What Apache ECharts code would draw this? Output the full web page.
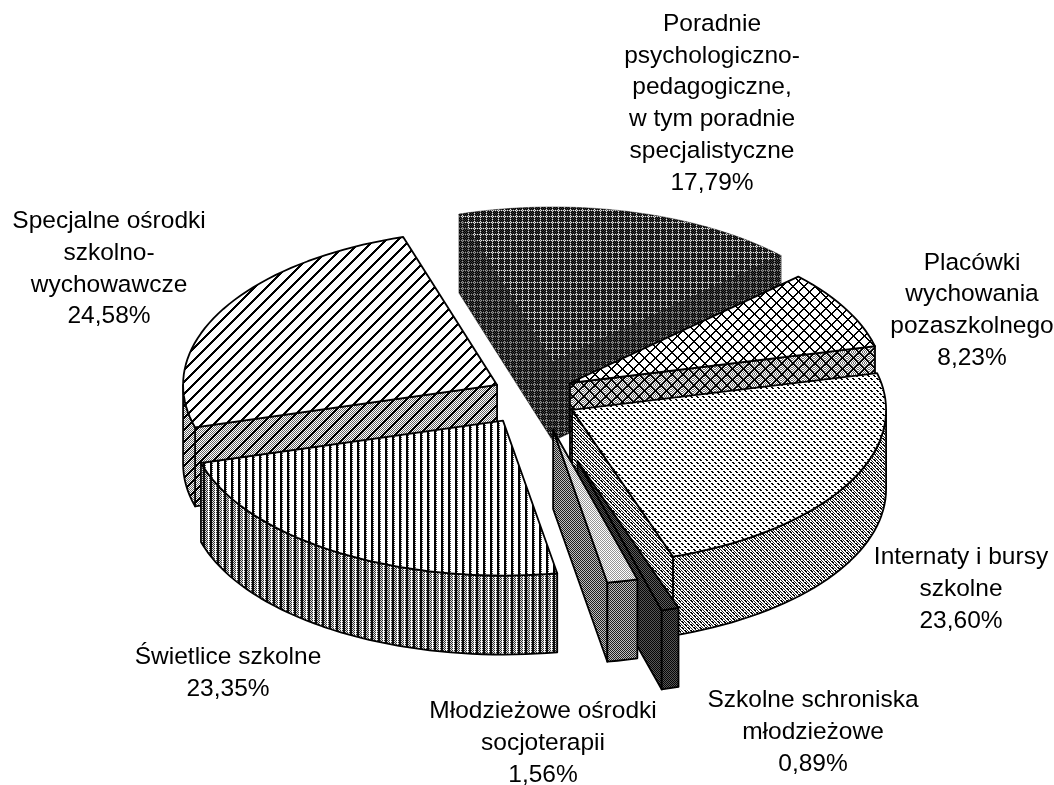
<!DOCTYPE html>
<html>
<head>
<meta charset="utf-8">
<style>
  html, body { margin: 0; padding: 0; background: #fff; }
  #chart { width: 1054px; height: 785px; }
</style>
<script src="https://cdn.jsdelivr.net/npm/echarts@6/dist/echarts.min.js"></script>
</head>
<body>
<div id="chart"></div>
<script>
// clockwise from the first slice
var categories = [
  'Poradnie\npsychologiczno-\npedagogiczne,\nw tym poradnie\nspecjalistyczne',
  'Placówki\nwychowania\npozaszkolnego',
  'Internaty i bursy\nszkolne',
  'Szkolne schroniska\nmłodzieżowe',
  'Młodzieżowe ośrodki\nsocjoterapii',
  'Świetlice szkolne',
  'Specjalne ośrodki\nszkolno-\nwychowawcze'
];
var values = [17.79, 8.23, 23.60, 0.89, 1.56, 23.35, 24.58];

// layout of the tilted pie
var cx = 533, cy = 393, rx = 314, ry = 155, depth = 79, startAngle = -17.4;
var explodeX = [0.25, 0.134, 0.142, 0.48, 0.29, 0.18, 0.13];
var explodeY = [0.207, 0.135, 0.227, 0.46, 0.245, 0.21, 0.11];
var drawOrder = [0, 1, 2, 5, 6, 4, 3];
var labelPos = [[712, 103.5], [972, 310.5], [961, 589], [813, 732.5], [543, 743], [228, 673], [109, 269]];

// small repeating fills, one per face
function tile(w, h, fn) {
  var c = document.createElement('canvas');
  c.width = w; c.height = h;
  var ctx = c.getContext('2d');
  var img = ctx.createImageData(w, h);
  for (var y = 0; y < h; y++) {
    for (var x = 0; x < w; x++) {
      var g = fn(x, y), i = (y * w + x) * 4;
      img.data[i] = img.data[i + 1] = img.data[i + 2] = g;
      img.data[i + 3] = 255;
    }
  }
  ctx.putImageData(img, 0, 0);
  return { image: c, repeat: 'repeat' };
}
function blob(x, y) {
  var pts = [[0, 0], [1, 0], [1, 1], [2, 1], [3, 3], [4, 3], [4, 4], [5, 4]];
  return pts.some(function (p) { return p[0] === x && p[1] === y; });
}
var fills = [
  { // dark grid
    top: tile(6, 6, function (x, y) {
      if (x === 0 || y === 0) return (x + y) % 2 ? 230 : 90;
      return (x + y) % 2 ? 0 : 55;
    }),
    wall: tile(6, 6, function (x, y) {
      if (x === 0 || y === 0) return (x + y) % 2 ? 150 : 50;
      return (x + y) % 2 ? 0 : 60;
    })
  },
  { // cross hatch
    top: tile(11, 11, function (x, y) {
      return ((x + y) % 11 < 2 || (x - y + 11) % 11 < 2) ? 0 : 255;
    }),
    wall: tile(11, 11, function (x, y) {
      if ((x + y) % 11 < 2 || (x - y + 11) % 11 < 2) return 0;
      return (x + y) % 2 ? 255 : 110;
    })
  },
  { // dots
    top: tile(6, 6, function (x, y) { return blob(x, y) ? 0 : 255; }),
    wall: tile(6, 6, function (x, y) {
      if (blob(x, y)) return 0;
      return (x + y * 2) % 3 === 0 ? 40 : 255;
    })
  },
  { // near black
    top: tile(2, 2, function (x, y) { return (x + y) % 2 ? 95 : 5; }),
    wall: tile(2, 2, function (x, y) { return (x + y) % 2 ? 85 : 5; })
  },
  { // greys
    top: tile(2, 2, function (x, y) { return (x + y) % 2 ? 255 : 150; }),
    wall: tile(2, 2, function (x, y) { return (x + y) % 2 ? 190 : 30; })
  },
  { // vertical stripes
    top: tile(7, 4, function (x, y) {
      if (x === 0 || x === 1) return 0;
      if (x === 2) return y % 2 ? 60 : 255;
      return 255;
    }),
    wall: tile(7, 2, function (x, y) {
      if (x === 0 || x === 1) return 10;
      if (x === 5) return 255;
      return (x + y) % 2 ? 225 : 50;
    })
  },
  { // diagonal stripes
    top: tile(12, 12, function (x, y) { return (x + y) % 12 < 3 ? 0 : 255; }),
    wall: tile(12, 12, function (x, y) {
      if ((x + y) % 12 < 3) return 0;
      return (x + y) % 2 ? 255 : 100;
    })
  }
];

var total = values.reduce(function (a, b) { return a + b; }, 0);
function point(ox, oy, deg) {
  var t = deg * Math.PI / 180;
  return [ox + rx * Math.sin(t), oy - ry * Math.cos(t)];
}
function arc(ox, oy, from, to) {
  var pts = [];
  var n = Math.max(2, Math.ceil(Math.abs(to - from) / 2));
  for (var i = 0; i <= n; i++) pts.push(point(ox, oy, from + (to - from) * i / n));
  return pts;
}
function down(pts) {
  return pts.map(function (p) { return [p[0], p[1] + depth]; }).reverse();
}
function face(points, fill, z2, soft) {
  return {
    type: 'polygon',
    z2: z2,
    shape: { points: points },
    style: {
      fill: fill,
      stroke: soft ? 'rgba(0,0,0,0.4)' : '#000',
      lineWidth: soft ? 1 : 1.8,
      lineJoin: 'round'
    }
  };
}

function renderSlice(params, api) {
  var i = params.dataIndex;
  var before = 0;
  for (var k = 0; k < i; k++) before += values[k];
  var a0 = startAngle + before / total * 360;
  var a1 = a0 + api.value(0) / total * 360;
  var mid = (a0 + a1) / 2;
  var apex = point(cx, cy, mid);
  var ox = cx + (apex[0] - cx) * explodeX[i];
  var oy = cy + (apex[1] - cy) * explodeY[i];
  var z = (drawOrder[i] + 1) * 10;
  var sin = function (d) { return Math.sin(d * Math.PI / 180); };
  var soft = i === 0; // the dark slice shows no edge lines in the scan
  var children = [];

  // only the faces that turn toward the viewer
  if (sin(a0) < 0) {
    var e0 = [[ox, oy], point(ox, oy, a0)];
    children.push(face(e0.concat(down(e0)), fills[i].wall, z, soft));
  }
  if (sin(a1) > 0) {
    var e1 = [[ox, oy], point(ox, oy, a1)];
    children.push(face(e1.concat(down(e1)), fills[i].wall, z, soft));
  }
  var f0 = Math.max(a0, 90), f1 = Math.min(a1, 270);
  if (f1 > f0) {
    var rim = arc(ox, oy, f0, f1);
    children.push(face(rim.concat(down(rim)), fills[i].wall, z + 1, soft));
  }
  children.push(face([[ox, oy]].concat(arc(ox, oy, a0, a1)), fills[i].top, z + 2, soft));

  children.push({
    type: 'text',
    z2: 200,
    style: {
      text: categories[i] + '\n' + values[i].toFixed(2).replace('.', ',') + '%',
      x: labelPos[i][0],
      y: labelPos[i][1],
      align: 'center',
      verticalAlign: 'middle',
      font: '24.5px "Liberation Sans", Arial, sans-serif',
      lineHeight: 31.8,
      fill: '#000'
    }
  });
  return { type: 'group', children: children };
}

var chart = echarts.init(document.getElementById('chart'), null, { renderer: 'canvas' });
chart.setOption({
  animation: false,
  backgroundColor: '#fff',
  series: [{
    type: 'custom',
    coordinateSystem: 'none',
    silent: true,
    data: values.map(function (v, i) { return { name: categories[i], value: [v] }; }),
    renderItem: renderSlice
  }]
});
</script>
</body>
</html>
